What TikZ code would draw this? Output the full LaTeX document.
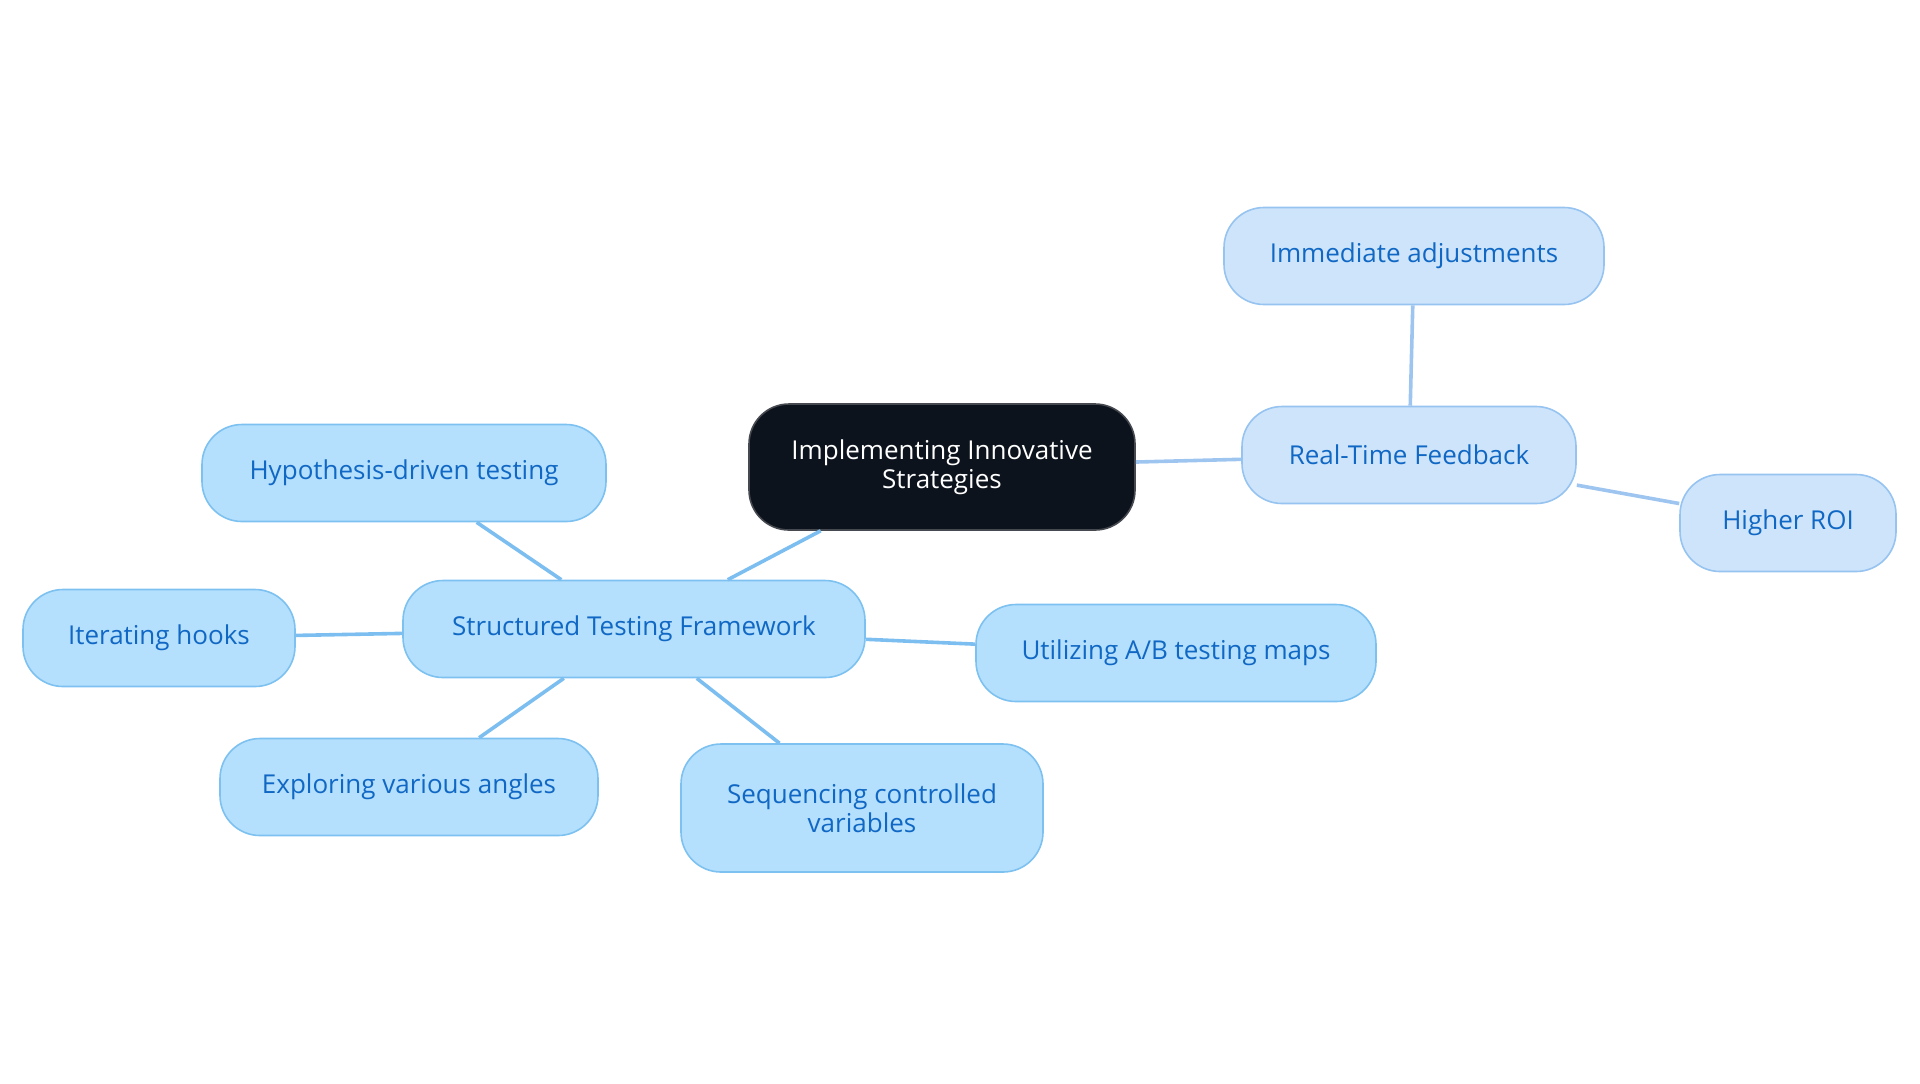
\documentclass[tikz,border=0pt]{standalone}
\usepackage{fontspec}
\setmainfont{Open Sans}
\usepackage{tikz}
\usetikzlibrary{positioning}
\definecolor{MapRoot}{RGB}{13,19,29}
\definecolor{MapRootBorder}{RGB}{70,74,80}
\definecolor{MapBlue}{RGB}{180,223,253}
\definecolor{MapBlueBorder}{RGB}{125,193,240}
\definecolor{MapPale}{RGB}{205,228,251}
\definecolor{MapPaleBorder}{RGB}{150,195,240}
\definecolor{MapText}{RGB}{16,104,196}
\definecolor{MapLine}{RGB}{125,190,240}
\definecolor{MapLinePale}{RGB}{158,196,240}
\tikzset{
  central/.style={draw=MapRootBorder, fill=MapRoot, rounded corners=20pt, line width=0.8pt,
                align=center, font=\fontsize{13}{14.5}\selectfont, text=white, inner sep=4pt,
                minimum width=193pt, minimum height=63pt},
  bloco/.style={draw=MapBlueBorder, fill=MapBlue, rounded corners=20pt, line width=0.8pt,
                align=center, font=\fontsize{13}{14.5}\selectfont, text=MapText, inner sep=4pt,
                minimum height=48.5pt},
  blococlaro/.style={bloco, draw=MapPaleBorder, fill=MapPale},
  ligacao/.style={line width=1.8pt, MapLine},
  ligacaoclara/.style={line width=1.8pt, MapLinePale},
}
\begin{document}
\begin{tikzpicture}[x=0.5pt, y=-0.5pt]

  \useasboundingbox (0,0) rectangle (1920,1083);

  % --- No central ----------------------------------------------------------
  \node[central] (centro) at (942, 467) {Implementing Innovative\\Strategies};

  % --- Ramo: feedback em tempo real ----------------------------------------
  \node[blococlaro, minimum width=167pt] (feedback) at (1409, 455) {Real-Time Feedback};
  \node[blococlaro, minimum width=190pt] (ajustes)  at (1414, 256) {Immediate adjustments};
  \node[blococlaro, minimum width=108pt] (roi)      at (1788, 523) {Higher ROI};

  % --- Ramo: estrutura de testes -------------------------------------------
  \node[bloco, minimum width=231pt] (estrutura) at (634, 629) {Structured Testing Framework};
  \node[bloco, minimum width=202pt] (hipotese)  at (404, 473) {Hypothesis-driven testing};
  \node[bloco, minimum width=136pt] (ganchos)   at (159, 638) {Iterating hooks};
  \node[bloco, minimum width=189pt] (angulos)   at (409, 787) {Exploring various angles};
  \node[bloco, minimum width=181pt, minimum height=64pt] (variaveis) at (862, 808) {Sequencing controlled\\variables};
  \node[bloco, minimum width=200pt] (mapas)     at (1176, 653) {Utilizing A/B testing maps};

  % --- Ligacoes -------------------------------------------------------------
  \draw[ligacaoclara] (centro) -- (feedback);
  \draw[ligacaoclara] (feedback) -- (ajustes);
  \draw[ligacaoclara] (feedback) -- (roi);

  \draw[ligacao] (centro) -- (estrutura);
  \draw[ligacao] (estrutura) -- (hipotese);
  \draw[ligacao] (estrutura) -- (ganchos);
  \draw[ligacao] (estrutura) -- (angulos);
  \draw[ligacao] (estrutura) -- (variaveis);
  \draw[ligacao] (estrutura) -- (mapas);

\end{tikzpicture}
\end{document}
